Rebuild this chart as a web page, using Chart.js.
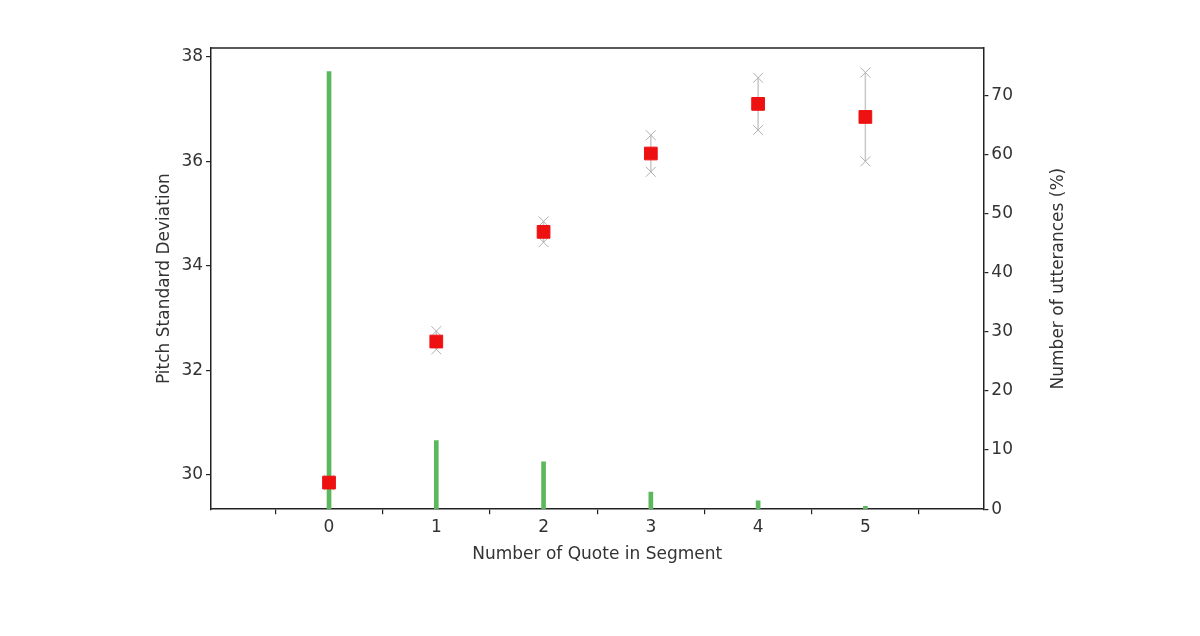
<!DOCTYPE html>
<html><head><meta charset="utf-8">
<script src="https://cdn.jsdelivr.net/npm/chart.js@4"></script>
<style>html,body{margin:0;background:#fff}#w{width:1200px;height:636px}</style>
</head><body><div id="w"><canvas id="c"></canvas></div>
<script>
const categories=[0,1,2,3,4,5];
const pitchMean=[29.85,32.55,34.65,36.15,37.1,36.85];
const errLow=[29.8,32.4,34.45,35.8,36.6,36.0];
const errHigh=[29.9,32.75,34.85,36.5,37.6,37.7];
const utterPct=[74,11.6,8.0,2.9,1.4,0.5];
const leftTicks=[30,32,34,36,38];
const rightTicks=[0,10,20,30,40,50,60,70];

const F={family:'DejaVu Sans',size:17};
const G={display:true,drawOnChartArea:false,drawTicks:true,tickLength:5,color:'#222',lineWidth:1.2};
const ds=[];
ds.push({type:'bar',data:categories.map((c,i)=>({x:c,y:utterPct[i]})),backgroundColor:'#5cb85c',barThickness:4,yAxisID:'y2',order:3});
categories.forEach((c,i)=>{
  ds.push({type:'line',data:[{x:c,y:errLow[i]},{x:c,y:errHigh[i]}],borderColor:'#c8c8c8',borderWidth:1.5,pointStyle:'crossRot',pointRadius:7,pointBorderColor:'#b0b0b0',pointBorderWidth:1,yAxisID:'y',order:2});
});
ds.push({type:'scatter',data:categories.map((c,i)=>({x:c,y:pitchMean[i]})),pointStyle:'rect',pointRadius:9,backgroundColor:'#ee1111',borderColor:'#ee1111',yAxisID:'y',order:1});

const frame={id:'frame',afterDraw(ch){const a=ch.chartArea,x=ch.ctx;x.save();
 x.strokeStyle='#222';x.lineWidth=1.5;x.beginPath();x.moveTo(a.left,a.top);x.lineTo(a.right,a.top);x.stroke();
 x.fillStyle='#333';x.font='17px "DejaVu Sans"';x.textAlign='center';x.textBaseline='middle';
 x.translate(a.right+75,(a.top+a.bottom)/2);x.rotate(-Math.PI/2);x.fillText('Number of utterances (%)',0,0);x.restore();}};

new Chart(document.getElementById('c'),{
 data:{datasets:ds},plugins:[frame],
 options:{responsive:true,maintainAspectRatio:false,animation:false,
  layout:{padding:{left:150,right:184,top:48,bottom:67}},
  plugins:{legend:{display:false},tooltip:{enabled:false}},
  scales:{
   x:{type:'linear',min:-0.5,max:5.5,grid:G,border:{color:'#222',width:1.5},
      afterBuildTicks:a=>{a.ticks=categories.map(v=>({value:v}));},
      ticks:{font:F,color:'#333'},title:{display:true,text:'Number of Quote in Segment',font:F,color:'#333'}},
   y:{position:'left',min:29.34,max:38.17,grid:G,border:{color:'#222',width:1.5},
      afterBuildTicks:a=>{a.ticks=leftTicks.map(v=>({value:v}));},
      ticks:{font:F,color:'#333'},title:{display:true,text:'Pitch Standard Deviation',font:F,color:'#333'}},
   y2:{position:'right',min:0,max:78,grid:G,border:{color:'#222',width:1.5},
      afterBuildTicks:a=>{a.ticks=rightTicks.map(v=>({value:v}));},
      ticks:{font:F,color:'#333'},title:{display:false}}
  }}
});
</script></body></html>
